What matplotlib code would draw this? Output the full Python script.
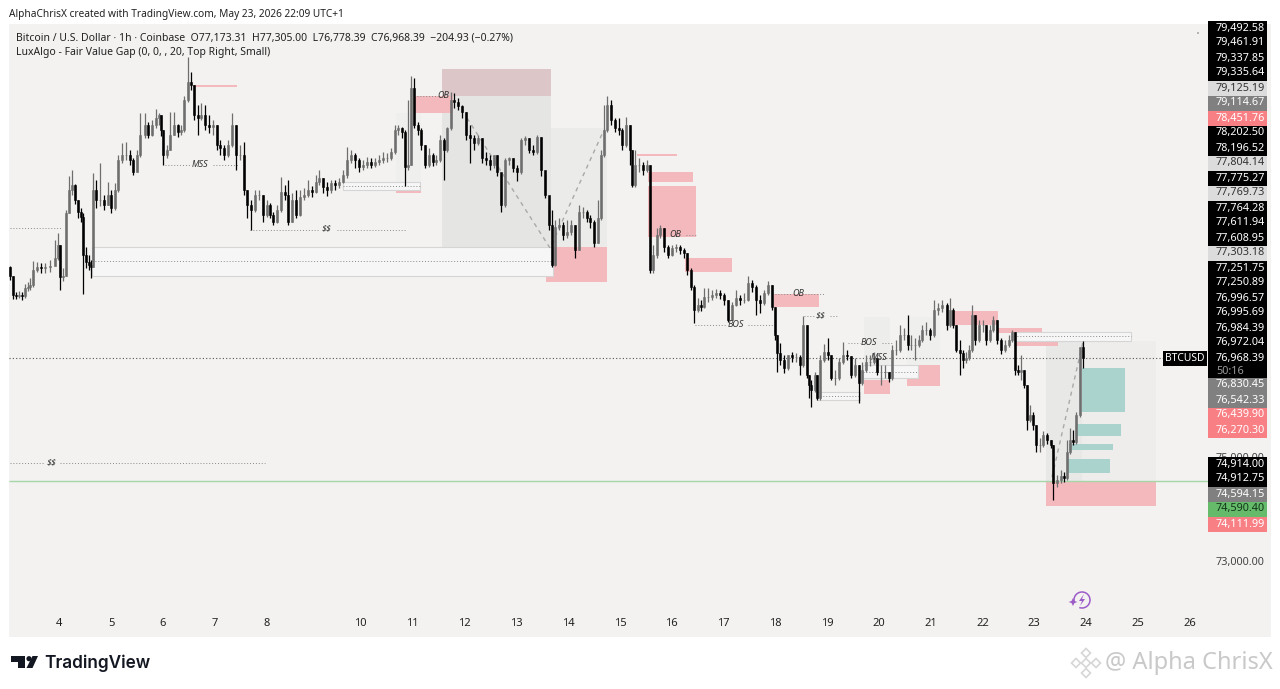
"""BTCUSD 1h TradingView snapshot with LuxAlgo zones, redrawn from the screenshot."""
import matplotlib
matplotlib.use("Agg")
import matplotlib.pyplot as plt
import numpy as np
from matplotlib.patches import Circle, Polygon, Rectangle, Arc

# chart column of every candle (the time axis has a gap, so it is positional)
BAR_POS = [
    10, 13, 16, 19, 22, 25, 28, 30, 33, 37,
    41, 45, 50, 55, 58, 60, 63, 66, 69, 72,
    75, 78, 81, 83, 86, 89, 91, 93, 96, 100,
    104, 108, 111, 115, 118, 122, 126, 130, 133, 137,
    140, 145, 148, 152, 156, 159, 161, 163, 167, 170,
    174, 178, 181, 184, 188, 191, 194, 198, 201, 205,
    209, 213, 217, 220, 224, 228, 232, 236, 240, 244,
    247, 251, 255, 259, 263, 267, 270, 273, 277, 281,
    285, 288, 292, 296, 300, 304, 308, 312, 316, 319,
    323, 327, 331, 335, 339, 343, 347, 351, 355, 359,
    363, 367, 371, 375, 379, 383, 387, 391, 395, 398,
    402, 405, 408, 411, 414, 418, 421, 425, 429, 433,
    436, 440, 444, 447, 451, 454, 458, 462, 466, 470,
    474, 478, 482, 486, 490, 494, 497, 501, 505, 509,
    513, 517, 521, 525, 529, 533, 537, 541, 545, 549,
    552, 555, 559, 563, 567, 571, 575, 579, 583, 587,
    590, 594, 598, 601, 604, 607, 611, 615, 619, 622,
    626, 630, 632, 635, 639, 643, 647, 650, 653, 657,
    660, 664, 668, 672, 676, 680, 684, 687, 691, 694,
    698, 701, 704, 708, 712, 716, 720, 724, 728, 732,
    736, 740, 744, 748, 752, 756, 760, 764, 768, 772,
    775, 777, 780, 784, 788, 792, 796, 800, 803, 807,
    809, 811, 815, 817, 820, 824, 828, 831, 835, 839,
    843, 847, 851, 855, 859, 862, 866, 870, 874, 877,
    881, 885, 889, 892, 896, 900, 904, 908, 911, 915,
    919, 922, 926, 930, 934, 938, 942, 947, 950, 953,
    956, 960, 963, 966, 969, 972, 975, 979, 983, 986,
    990, 993, 997, 1001, 1005, 1009, 1012, 1015, 1018, 1021,
    1024, 1027, 1030, 1033, 1036, 1040, 1043, 1047, 1051, 1053,
    1057, 1061, 1064, 1067, 1070, 1073, 1076, 1080, 1083,
]
FIRST_OPEN = 78740
CLOSES = [
    78560, 78190, 78170, 78190, 78170, 78330, 78350, 78390, 78680, 78740,
    78720, 78740, 78760, 78910, 79170, 78540, 78560, 79790, 80240, 80330,
    80040, 79810, 79710, 78970, 78840, 78780, 78740, 80240, 80040, 80040,
    79940, 80140, 79890, 80240, 80820, 80920, 80920, 80820, 80590, 80920,
    81300, 81500, 81300, 81500, 81640, 81690, 81400, 80920, 81010, 81300,
    81500, 81360, 81400, 81990, 82340, 82280, 81690, 81640, 81690, 81500,
    81460, 81500, 81110, 81050, 80920, 81110, 81500, 80920, 80920, 80240,
    79940, 79850, 80140, 80140, 79750, 79940, 79750, 79610, 79850, 80200,
    80140, 79610, 80040, 79750, 80100, 80140, 80240, 80200, 80390, 80470,
    80290, 80240, 80370, 80330, 80390, 80530, 80820, 80920, 80820, 80680,
    80720, 80780, 80720, 80780, 80820, 80860, 80860, 80980, 81400, 81440,
    81360, 80680, 80720, 82220, 81500, 81400, 81110, 80720, 80920, 80780,
    80820, 81210, 81010, 81440, 81990, 81950, 81870, 81750, 81300, 81250,
    81150, 81250, 80860, 80820, 80720, 80920, 80590, 79940, 80820, 80860,
    80660, 80590, 81210, 81250, 81010, 80980, 81270, 80630, 80140, 79560,
    78780, 79520, 79560, 79360, 79420, 79560, 79070, 79810, 79810, 79690,
    79610, 79200, 79690, 80920, 81400, 81890, 81600, 81440, 81400, 81110,
    81500, 81010, 80330, 80720, 80720, 80630, 80720, 78680, 78970, 79360,
    79500, 79130, 78970, 79110, 79130, 79070, 79010, 78680, 78350, 77900,
    78000, 77960, 78150, 78150, 78190, 78230, 78190, 78100, 77710, 78000,
    78130, 78100, 78100, 78430, 78350, 78100, 78040, 78230, 78390, 77960,
    77420, 77070, 76930, 76770, 77030, 76990, 76990, 76830, 77610, 76640,
    76440, 76350, 76640, 76190, 76930, 77090, 77030, 76580, 76580, 76890,
    77030, 77010, 76640, 76830, 76480, 76730, 76890, 76890, 76970, 76700,
    76700, 76700, 76580, 77120, 77120, 77420, 77420, 77220, 77220, 77220,
    77320, 77510, 77510, 77420, 77900, 77940, 78000, 77610, 77900, 77610,
    77120, 77070, 76930, 76970, 77120, 77800, 77320, 77610, 77610, 77320,
    77510, 77710, 77320, 77120, 77220, 77320, 77470, 76730, 76700, 76730,
    76440, 75760, 75860, 75670, 75280, 75280, 75470, 75370, 75280, 74540,
    74600, 74670, 74630, 75140, 75370, 75330, 75860, 77173, 76968,
]
HIGHS = [
    78760, 78560, 78250, 78270, 78250, 78410, 78450, 78520, 78850, 78840,
    78820, 78820, 78870, 79260, 79400, 79170, 78720, 79850, 80510, 80630,
    80350, 80040, 79890, 79790, 79130, 78970, 78870, 80570, 80430, 80760,
    80140, 80390, 80240, 80370, 80920, 81150, 81170, 81010, 80860, 81010,
    81730, 81730, 81560, 81600, 81810, 81730, 81690, 81400, 81110, 81750,
    81750, 81520, 81500, 82060, 82820, 82530, 82280, 81890, 81930, 81890,
    81690, 81600, 81500, 81210, 81110, 81210, 81730, 81500, 81110, 81170,
    80240, 80040, 80240, 80240, 80140, 80040, 79980, 79810, 79940, 80490,
    80330, 80430, 80180, 80240, 80240, 80270, 80430, 80310, 80530, 80630,
    80470, 80390, 80430, 80430, 80470, 80630, 81070, 81010, 80950, 80860,
    80820, 80880, 80860, 80860, 80920, 80980, 80950, 81050, 81500, 81500,
    81460, 81400, 81990, 82450, 82410, 81560, 81440, 81110, 81050, 80950,
    80920, 81300, 81250, 81460, 82140, 82120, 82020, 81890, 81750, 81500,
    81300, 81300, 81250, 80980, 80920, 80920, 80920, 80530, 80860, 80880,
    80860, 80720, 81250, 81290, 81250, 81110, 81300, 81270, 80530, 79940,
    79850, 79650, 79690, 79610, 79650, 79650, 79560, 79940, 79910, 79850,
    79750, 79650, 80040, 81010, 81890, 82060, 81990, 81640, 81640, 81440,
    81660, 81500, 81010, 81010, 80860, 80780, 80820, 80720, 79170, 79500,
    79550, 79500, 79170, 79170, 79190, 79170, 79110, 79010, 78720, 78390,
    78130, 78100, 78330, 78330, 78290, 78310, 78290, 78230, 78100, 78060,
    78290, 78190, 78230, 78560, 78490, 78390, 78190, 78290, 78460, 78390,
    77960, 77420, 77260, 77030, 77030, 77080, 77070, 77030, 77790, 77610,
    76640, 76540, 76700, 76640, 77030, 77240, 77360, 77030, 76730, 76970,
    77280, 77120, 77010, 76970, 76830, 76890, 77030, 77030, 77080, 76970,
    76830, 76830, 76700, 77220, 77320, 77610, 77550, 77800, 77420, 77360,
    77420, 77610, 77670, 77550, 78100, 78040, 78100, 78040, 78130, 77940,
    77610, 77320, 77120, 77080, 77220, 78000, 77800, 77710, 77710, 77610,
    77610, 77790, 77710, 77360, 77320, 77420, 77510, 77470, 76830, 77030,
    76730, 76440, 76050, 75920, 75670, 75410, 75550, 75510, 75370, 75280,
    74690, 74790, 74750, 75370, 75610, 75570, 75920, 77180, 77305,
]
LOWS = [
    78490, 78120, 78120, 78130, 78100, 78130, 78270, 78290, 78350, 78640,
    78620, 78620, 78640, 78760, 78870, 78290, 78470, 78560, 79790, 80140,
    79960, 79690, 79610, 78210, 78720, 78680, 78520, 78740, 79890, 79920,
    79850, 79940, 79790, 79850, 80200, 80760, 80820, 80720, 80530, 80590,
    80880, 81250, 81250, 81290, 81440, 81500, 81290, 80720, 80860, 81010,
    81300, 81270, 81300, 81360, 81950, 82180, 81600, 81300, 81600, 81400,
    81340, 81300, 81010, 80920, 80820, 80880, 81070, 80630, 80820, 80140,
    79690, 79460, 79810, 80040, 79610, 79710, 79690, 79560, 79590, 79810,
    80040, 79560, 79610, 79690, 79730, 80040, 80100, 80100, 80180, 80330,
    80180, 80120, 80180, 80240, 80270, 80370, 80470, 80760, 80660, 80590,
    80630, 80660, 80660, 80680, 80720, 80760, 80780, 80820, 80940, 81300,
    81250, 80310, 80630, 80720, 81440, 81300, 81010, 80660, 80680, 80700,
    80720, 80780, 80430, 80980, 81400, 81830, 81790, 81640, 81210, 80760,
    81010, 81110, 80760, 80720, 80630, 80660, 80510, 79810, 79910, 80720,
    80590, 80410, 80550, 81110, 80950, 80920, 80940, 80510, 80080, 79460,
    78740, 78760, 79460, 79260, 79300, 79360, 78910, 79070, 79690, 79610,
    79500, 79130, 79200, 79650, 80880, 81360, 81500, 81360, 81300, 81010,
    81070, 80720, 80290, 80290, 80590, 80530, 80590, 78620, 78620, 78910,
    79300, 79030, 78910, 78950, 79030, 78990, 78910, 78580, 78290, 77650,
    77860, 77880, 77940, 78060, 78100, 78130, 78120, 78000, 77670, 77710,
    77980, 78000, 78040, 78080, 78250, 77800, 77840, 78000, 78190, 77900,
    77320, 76700, 76830, 76680, 76730, 76890, 76890, 76640, 76790, 76580,
    76190, 76010, 76310, 76150, 76150, 76890, 76930, 76540, 76440, 76540,
    76850, 76930, 76580, 76600, 76090, 76440, 76700, 76810, 76850, 76640,
    76440, 76580, 76500, 76540, 77030, 77090, 77320, 77120, 77120, 76930,
    77180, 77280, 77420, 77320, 77380, 77800, 77860, 77510, 77570, 77550,
    77080, 76640, 76770, 76870, 76930, 77080, 77220, 77280, 77470, 77220,
    77280, 77470, 77240, 77050, 77080, 77180, 77280, 76640, 76640, 76540,
    76380, 75570, 75720, 75570, 75140, 75140, 75240, 75290, 75220, 74210,
    74460, 74540, 74560, 74600, 75100, 75280, 75300, 75820, 76778,
]

DAY_POS = [59, 111, 163, 215, 267, 360, 412, 464, 516, 568, 620, 671, 723,
           775, 827, 879, 931, 983, 1034, 1086, 1138, 1190]
DAY_LABELS = ["4", "5", "6", "7", "8", "10", "11", "12", "13", "14", "15", "16",
              "17", "18", "19", "20", "21", "22", "23", "24", "25", "26"]
BOLD_DAYS = ["4", "11", "18", "25"]

# zones: first column, last column, top price, bottom price
RED_ZONES = [
    (193, 237, 82268, 82239), (415, 453, 82064, 81733), (396, 421, 80391, 80177),
    (546, 607, 79127, 78446), (637, 677, 80936, 80897), (648, 693, 80586, 80391),
    (648, 696, 80313, 79322), (685, 732, 78913, 78641), (774, 819, 78213, 77960),
    (864, 890, 76540, 76268), (907, 940, 76832, 76423), (953, 998, 77882, 77610),
    (998, 1042, 77551, 77454), (1015, 1058, 77298, 77201), (1046, 1156, 74576, 74089),
]
TEAL_ZONES = [
    (1082, 1125, 76774, 75917), (1077, 1121, 75684, 75451),
    (1069, 1113, 75295, 75178), (1067, 1110, 75004, 74731),
]
GRAY_ZONES = [
    (396, 421, 81733, 80391, "#efefee"), (442, 551, 82589, 82064, "#dcc6c8"),
    (442, 551, 82064, 79127, "#e5e5e4"), (551, 607, 81441, 79127, "#ebebea"),
    (864, 890, 77765, 76540, "#ededec"), (907, 940, 77765, 76832, "#efefee"),
    (1046, 1156, 77298, 74576, "#eeedec"), (1046, 1082, 77298, 74576, "#e8e8e7"),
]
# liquidity boxes: first column, last column, top, middle, bottom
PALE_BOXES = [
    (92, 553, 79127, 78855, 78563), (343, 420, 80391, 80313, 80235),
    (817, 860, 76307, 76229, 76151), (863, 918, 76832, 76696, 76579),
    (1014, 1131, 77474, 77396, 77298),
]
DOTTED = [
    (10, 62, 79496), (250, 318, 79457), (337, 406, 79457), (165, 190, 80722),
    (213, 238, 80722), (10, 44, 74925), (60, 265, 74925), (417, 438, 82064),
    (686, 696, 79360), (775, 792, 78213), (805, 825, 78213), (804, 815, 77785),
    (830, 838, 77785), (695, 727, 77610), (748, 775, 77610), (848, 860, 77260),
    (882, 892, 77260),
]
TAGS = [
    ("MSS", 200, 80722), ("$$", 327, 79477), ("OB", 443, 82064), ("OB", 675, 79360),
    ("OB", 798, 78213), ("$$", 821, 77785), ("BOS", 736, 77610), ("BOS", 869, 77260),
    ("MSS", 879, 76987), ("$$", 52, 74925),
]
ZIGZAG_X = [467, 550, 603]
ZIGZAG_Y = [81636, 79107, 81364]
LAST_LEG_X = [1052, 1083]
LAST_LEG_Y = [74654, 77279]
LAST_PRICE = 76968.39
GREEN_LEVEL = 74576

SCALE_TEXT = ["79,492.58", "79,461.91", "79,337.85", "79,335.64", "79,125.19", "79,114.67",
              "78,451.76", "78,202.50", "78,196.52", "77,804.14", "77,775.27", "77,769.73",
              "77,764.28", "77,611.94", "77,608.95", "77,303.18", "77,251.75", "77,250.89",
              "76,996.57", "76,995.69", "76,984.39", "76,972.04", "76,968.39", "50:16",
              "76,830.45", "76,542.33", "76,439.90", "76,270.30", "74,914.00", "74,912.75",
              "74,594.15", "74,590.40", "74,111.99"]
SCALE_KIND = ["k", "k", "k", "k", "l", "g", "r", "k", "k", "l", "k", "l", "k", "k", "k", "l", "k",
              "k", "k", "k", "k", "k", "k", "t", "g", "g", "r", "r", "k", "k", "g", "v", "r"]
SCALE_ROW = [28, 43, 58, 73, 88, 103, 118, 133, 148, 163, 178, 193, 208, 223, 238, 253, 268,
             283, 298, 313, 328, 343, 358, 371, 385, 400, 415, 430, 464, 479, 494, 509, 524]
KIND_STYLE = {"k": ("#000000", "#ffffff"), "l": ("#dcdcdc", "#333333"), "g": ("#808080", "#ffffff"),
              "r": ("#f87f84", "#ffffff"), "v": ("#66bb6a", "#12351a"), "t": ("#000000", "#9a9a9a")}

BG = "#f3f2f1"
SANS = ["Noto Sans", "DejaVu Sans"]
plt.rcParams["font.family"] = SANS

fig = plt.figure(figsize=(12.8, 6.89), dpi=100, facecolor="white")
ax = fig.add_axes([9 / 1280, 52 / 689, 1262 / 1280, 613 / 689], facecolor=BG)
ax.set_xlim(9, 1271)
ax.set_ylim(71541, 83464)
for side in ax.spines.values():
    side.set_visible(False)


def zone(x0, x1, top, bottom, color, z=1):
    ax.add_patch(Rectangle((x0, bottom), x1 - x0, top - bottom, fc=color, ec="none", zorder=z))


for x0, x1, top, bottom, color in GRAY_ZONES:
    zone(x0, x1, top, bottom, color)
for x0, x1, top, bottom in RED_ZONES:
    zone(x0, x1, top, bottom, "#f4b9bd", 1.5)
for x0, x1, top, bottom in TEAL_ZONES:
    zone(x0, x1, top, bottom, "#a9d3cc", 1.5)
for x0, x1, top, mid, bottom in PALE_BOXES:
    ax.add_patch(Rectangle((x0, bottom), x1 - x0, top - bottom, fc="#f7f6f6", ec="#d5d5d5",
                           lw=0.8, zorder=1.6))
    ax.hlines(mid, x0, x1, color="#8a8a8a", lw=0.7, ls=(0, (1, 2)), zorder=1.7)
for x0, x1, level in DOTTED:
    ax.hlines(level, x0, x1, color="#8a8a8a", lw=0.7, ls=(0, (1, 2)), zorder=1.8)

ax.plot(ZIGZAG_X, ZIGZAG_Y, color="#a9a9a9", lw=1.0, ls=(0, (3, 3)), zorder=1.9)
ax.plot(LAST_LEG_X, LAST_LEG_Y, color="#a9a9a9", lw=1.0, ls=(0, (3, 3)), zorder=1.9)
ax.hlines(GREEN_LEVEL, 9, 1208, color="#a6d6a8", lw=1.0, zorder=2)
ax.hlines(LAST_PRICE, 9, 1163, color="#555555", lw=0.8, ls=(0, (1, 2)), zorder=2)

pos = np.array(BAR_POS)
close = np.array(CLOSES, dtype=float)
open_ = np.r_[FIRST_OPEN, close[:-1]]
up = close >= open_
colors = np.where(up, "#6e6e6e", "#000000")
ax.vlines(pos, LOWS, HIGHS, colors=colors, lw=0.9, zorder=3)
ax.bar(pos, np.abs(close - open_), bottom=np.minimum(open_, close), width=2.6,
       color=colors, edgecolor=colors, linewidth=0.4, zorder=3.1)

for label, x, y in TAGS:
    ax.text(x, y, label, ha="center", va="center", fontsize=6.5, style="italic",
            fontweight="bold", color="#333333", zorder=4, parse_math=False)

ax.set_yticks([])
ax.set_xticks(DAY_POS, DAY_LABELS)
ax.tick_params(axis="x", length=0, pad=-13.5, labelsize=8, labelcolor="#222222")
for tick in ax.get_xticklabels():
    if tick.get_text() in BOLD_DAYS:
        tick.set_fontweight("bold")

# everything outside the price pane is laid out on the screenshot's own grid
ov = fig.add_axes([0, 0, 1, 1], facecolor="none")
ov.set_xlim(0, 1280)
ov.set_ylim(689, 0)
ov.axis("off")

ov.text(9, 14, "AlphaChrisX created with TradingView.com, May 23, 2026 22:09 UTC+1",
        fontsize=7.3, va="center", color="#222222")
ov.text(16, 38, "Bitcoin / U.S. Dollar · 1h · Coinbase  O77,173.31  H77,305.00  L76,778.39  "
        "C76,968.39  −204.93 (−0.27%)", fontsize=7.5, va="center", color="#222222")
ov.text(16, 52, "LuxAlgo - Fair Value Gap (0, 0, , 20, Top Right, Small)",
        fontsize=7.5, va="center", color="#222222")
ov.add_patch(Circle((1198, 33), 0.7, fc="#555555", ec="none"))

ov.text(1216, 459, "75,000.00", fontsize=7.8, va="center", color="#444444", zorder=1)
ov.text(1216, 562, "73,000.00", fontsize=7.8, va="center", color="#444444")
for label, kind, row in zip(SCALE_TEXT, SCALE_KIND, SCALE_ROW):
    fill, ink = KIND_STYLE[kind]
    ov.add_patch(Rectangle((1208, row - 7.5), 59, 15, fc=fill, ec="none", zorder=2))
    ov.text(1216, row, label, fontsize=7.8, va="center", color=ink, zorder=3)

ov.add_patch(Rectangle((1163, 351), 44, 15, fc="#000000", ec="none"))
ov.text(1185, 358.5, "BTCUSD", fontsize=7.4, ha="center", va="center", color="white")

# boost badge
ov.add_patch(Arc((1082, 600), 16, 16, theta1=-200, theta2=110, color="#9c5cc8", lw=1.1))
ov.add_patch(Polygon([(1084, 594), (1079, 601), (1082, 601), (1080, 606), (1085, 599), (1082, 599)],
                     fc="#9c5cc8", ec="none"))
ov.add_patch(Polygon([(1073, 598), (1074.5, 601), (1077.5, 602), (1074.5, 603), (1073, 606),
                      (1071.5, 603), (1068.5, 602), (1071.5, 601)], fc="#9c5cc8", ec="none"))

# TradingView mark
ov.add_patch(Polygon([(11, 656), (25, 656), (25, 668), (18, 668), (18, 662), (11, 662)],
                     fc="#131722", ec="none"))
ov.add_patch(Circle((29, 658.7), 2.6, fc="#131722", ec="none"))
ov.add_patch(Polygon([(32.5, 656), (38, 656), (32.5, 668), (26.5, 668)], fc="#131722", ec="none"))
ov.text(44, 663, "TradingView", fontsize=12.4, family="Inter", fontweight="semibold",
        va="center", color="#131722")

# watermark
for cx, cy, r in [(1086, 653, 4.5), (1086, 673, 4.5), (1076, 663, 4.5), (1096, 663, 4.5), (1086, 663, 4.5)]:
    ov.add_patch(Polygon([(cx, cy - r), (cx + r, cy), (cx, cy + r), (cx - r, cy)],
                         fc="white", ec="#d6d6d6", lw=1.2))
ov.text(1105, 663, "@ Alpha ChrisX", fontsize=17, va="center", color="#c9c9c9")

fig.savefig("out.png", dpi=100, facecolor="white")
plt.close(fig)
